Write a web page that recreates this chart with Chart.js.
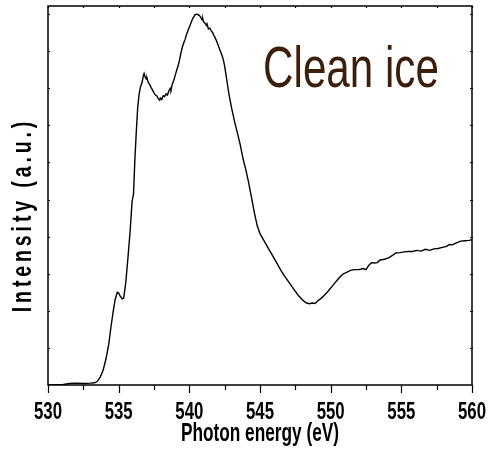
<!DOCTYPE html>
<html lang="en">
<head>
<meta charset="utf-8">
<title>Clean ice O K-edge</title>
<script src="https://cdn.jsdelivr.net/npm/chart.js@4.4.1/dist/chart.umd.min.js"></script>
<style>
	html, body { margin: 0; padding: 0; background: #fff; }
	#wrap { width: 489px; height: 453px; position: relative; }
</style>
</head>
<body>
<div id="wrap"><canvas id="xasChart"></canvas></div>
<script>
// photon energy (eV) and intensity (a.u.) of the clean ice spectrum
const energy = [
	530.0, 530.5, 531.0, 531.5, 532.0, 532.5, 533.0, 533.3, 533.5, 533.7,
	533.9, 534.1, 534.3, 534.45, 534.6, 534.75, 534.9, 535.0, 535.1, 535.25,
	535.35, 535.5, 535.65, 535.8, 535.95, 536.05, 536.15, 536.25, 536.35, 536.45,
	536.55, 536.65, 536.75, 536.8, 536.88, 536.95, 537.0, 537.1, 537.2, 537.3,
	537.4, 537.5, 537.6, 537.7, 537.8, 537.9, 537.95, 538.05, 538.15, 538.25,
	538.35, 538.45, 538.55, 538.65, 538.7, 538.8, 538.9, 539.0, 539.1, 539.2,
	539.3, 539.4, 539.5, 539.6, 539.7, 539.8, 539.9, 540.0, 540.1, 540.2,
	540.3, 540.4, 540.5, 540.6, 540.7, 540.8, 540.9, 540.95, 541.0, 541.1,
	541.2, 541.25, 541.35, 541.45, 541.55, 541.65, 541.7, 541.8, 541.9, 542.0,
	542.1, 542.2, 542.3, 542.4, 542.5, 542.6, 542.7, 542.8, 542.9, 543.0,
	543.2, 543.4, 543.6, 543.8, 544.0, 544.2, 544.4, 544.6, 544.8, 545.0,
	545.3, 545.6, 545.9, 546.2, 546.5, 546.8, 547.1, 547.4, 547.7, 547.9,
	548.1, 548.3, 548.5, 548.7, 548.9, 549.1, 549.3, 549.5, 549.8, 550.1,
	550.4, 550.7, 550.9, 551.1, 551.4, 551.7, 552.0, 552.3, 552.5, 552.7,
	552.9, 553.1, 553.3, 553.5, 553.8, 554.1, 554.4, 554.6, 554.9, 555.2,
	555.5, 555.8, 556.1, 556.4, 556.7, 557.0, 557.3, 557.6, 557.9, 558.2,
	558.4, 558.6, 558.9, 559.2, 559.5, 559.8, 560.0
];
const intensity = [
	0.00, 0.01, 0.01, 0.04, 0.05, 0.04, 0.05, 0.06, 0.10, 0.22,
	0.40, 0.70, 1.10, 1.55, 1.95, 2.30, 2.50, 2.48, 2.40, 2.32,
	2.34, 2.75, 3.40, 4.10, 4.95, 5.15, 6.10, 6.85, 7.50, 7.85,
	8.05, 8.15, 8.35, 8.40, 8.30, 8.25, 8.28, 8.15, 8.10, 8.02,
	7.95, 7.88, 7.82, 7.80, 7.72, 7.68, 7.74, 7.70, 7.80, 7.78,
	7.85, 7.82, 7.93, 8.00, 7.96, 8.12, 8.22, 8.35, 8.48, 8.60,
	8.75, 8.95, 9.10, 9.22, 9.32, 9.45, 9.55, 9.65, 9.75, 9.85,
	9.92, 9.98, 10.00, 9.99, 9.97, 9.92, 9.85, 9.88, 9.80, 9.76,
	9.70, 9.74, 9.60, 9.62, 9.55, 9.50, 9.45, 9.38, 9.30, 9.20,
	9.10, 9.00, 8.90, 8.78, 8.60, 8.35, 8.10, 7.85, 7.65, 7.45,
	7.10, 6.80, 6.48, 6.10, 5.80, 5.45, 5.05, 4.65, 4.30, 4.08,
	3.88, 3.68, 3.48, 3.28, 3.08, 2.90, 2.74, 2.58, 2.42, 2.34,
	2.26, 2.21, 2.19, 2.21, 2.20, 2.27, 2.33, 2.40, 2.52, 2.66,
	2.80, 2.93, 3.00, 3.03, 3.09, 3.11, 3.11, 3.14, 3.11, 3.23,
	3.30, 3.29, 3.30, 3.37, 3.39, 3.43, 3.50, 3.56, 3.57, 3.59,
	3.60, 3.60, 3.63, 3.61, 3.66, 3.63, 3.67, 3.68, 3.71, 3.74,
	3.79, 3.78, 3.83, 3.88, 3.89, 3.90, 3.92
];
const xTickLabels = ['530', '535', '540', '545', '550', '555', '560'];
const xMinorStep = 2.5;
const yTickStep = 1;

const xTitle = 'Photon energy (eV)';
const yTitle = 'Intensity (a.u.)';
const noteText = 'Clean ice';

const ink = '#000';
const noteColor = '#3b1f0b';

// squeezed text helper: sx < 1 makes the glyphs narrower
const drawSqueezed = (ctx, text, x, y, sx, font, opts = {}) => {
	ctx.save();
	ctx.translate(x, y);
	if (opts.rotate) ctx.rotate(opts.rotate);
	ctx.scale(sx, 1);
	ctx.font = font;
	ctx.fillStyle = opts.color || ink;
	ctx.textAlign = opts.align || 'center';
	ctx.textBaseline = 'alphabetic';
	if (opts.spacing) ctx.letterSpacing = opts.spacing;
	ctx.fillText(text, 0, 0);
	ctx.restore();
};

// frame, tick marks and all labels
const framePlugin = {
	id: 'frame',
	afterDraw(chart) {
		const { ctx, chartArea: a, scales: { x, y } } = chart;
		ctx.save();
		ctx.strokeStyle = ink;
		ctx.lineWidth = 1.5;
		ctx.strokeRect(a.left, a.top, a.right - a.left, a.bottom - a.top);

		ctx.lineWidth = 1.2;
		ctx.beginPath();
		for (let v = x.min; v <= x.max + 1e-6; v += xMinorStep) {
			const px = Math.round(x.getPixelForValue(v)) + 0.5;
			const major = Math.abs(v % 5) < 1e-6;
			ctx.moveTo(px, a.bottom);
			ctx.lineTo(px, a.bottom + (major ? 8 : 5));
			ctx.moveTo(px, a.top);
			ctx.lineTo(px, a.top + 2);
		}
		for (let v = y.min + yTickStep; v < y.max; v += yTickStep) {
			const py = Math.round(y.getPixelForValue(v)) + 0.5;
			ctx.moveTo(a.left, py);
			ctx.lineTo(a.left + 2, py);
			ctx.moveTo(a.right - 2, py);
			ctx.lineTo(a.right + 1, py);
		}
		ctx.stroke();
		ctx.restore();

		const tickFont = 'bold 24px "Liberation Sans", Arial, sans-serif';
		xTickLabels.forEach((lbl) => {
			drawSqueezed(ctx, lbl, x.getPixelForValue(Number(lbl)), a.bottom + 34, 0.7, tickFont);
		});
		drawSqueezed(ctx, xTitle, 260, 441, 0.69, 'bold 25px "Liberation Sans", Arial, sans-serif');
		drawSqueezed(ctx, yTitle, 31, 215, 0.7, 'bold 28px "Liberation Sans", Arial, sans-serif', {
			rotate: -Math.PI / 2,
			spacing: '5.5px',
		});
		drawSqueezed(ctx, noteText, 351, 87, 0.74, '57px "Liberation Sans", Arial, sans-serif', {
			color: noteColor,
		});
	},
};

const points = energy.map((e, i) => ({ x: e, y: intensity[i] }));

new Chart(document.getElementById('xasChart'), {
	type: 'scatter',
	data: {
		datasets: [{
			label: noteText,
			data: points,
			showLine: true,
			borderColor: ink,
			borderWidth: 1.4,
			pointRadius: 0,
			tension: 0,
			fill: false,
		}],
	},
	options: {
		responsive: true,
		maintainAspectRatio: false,
		animation: false,
		layout: { padding: { left: 48, right: 17, top: 6, bottom: 68 } },
		plugins: {
			legend: { display: false },
			tooltip: { enabled: false },
		},
		scales: {
			// axes take no room; the frame plugin draws them
			x: {
				type: 'linear',
				display: false,
				min: 530,
				max: 560,
				ticks: { stepSize: xMinorStep },
			},
			y: {
				display: false,
				min: 0,
				max: 10.22,
				ticks: { stepSize: yTickStep },
			},
		},
	},
	plugins: [framePlugin],
});
</script>
</body>
</html>
